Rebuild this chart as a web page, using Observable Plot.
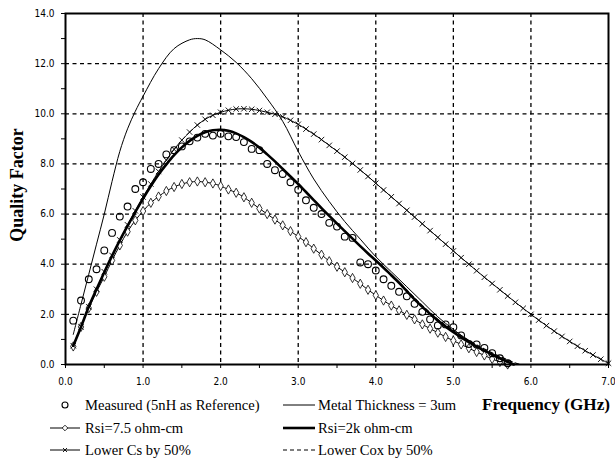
<!DOCTYPE html>
<html>
<head>
<meta charset="utf-8">
<script src="https://cdn.jsdelivr.net/npm/d3@7"></script>
<script src="https://cdn.jsdelivr.net/npm/@observablehq/plot@0.6"></script>
<style>
  html, body { margin: 0; padding: 0; background: white; }
  #wrap { position: relative; width: 615px; height: 459px; background: white; overflow: hidden; }
  #legend { position: absolute; left: 0; top: 390px; width: 615px; height: 69px; font-family: "Liberation Serif", "Times New Roman", serif; font-size: 14.6px; color: black; }
  .item { position: absolute; white-space: nowrap; line-height: 1; transform: translateY(-50%); }
  .sw { position: absolute; transform: translateY(-50%); }
  #xtitle { font-weight: bold; font-size: 17.2px; }
</style>
</head>
<body>
<div id="wrap">
  <div id="chart"></div>
  <div id="legend"></div>
</div>
<script>
// ---------- data ----------
const measuredF = [0.1,0.2,0.3,0.4,0.5,0.6,0.7,0.8,0.9,1.0,1.1,1.2,1.3,1.4,1.5,1.6,1.7,1.8,1.9,2.0,2.1,2.2,2.3,2.4,2.5,2.6,2.7,2.8,2.9,3.0,3.1,3.2,3.3,3.4,3.5,3.6,3.7,3.8,3.9,4.0,4.1,4.2,4.3,4.4,4.5,4.6,4.7,4.8,4.9,5.0,5.1,5.2,5.3,5.4,5.5,5.6,5.7];
const measuredQ = [1.75,2.55,3.4,3.8,4.55,5.25,5.9,6.3,7.0,7.27,7.8,8.0,8.38,8.55,8.7,8.9,9.05,9.2,9.13,9.2,9.1,9.07,8.87,8.6,8.55,8.0,7.75,7.6,7.27,6.97,6.55,6.25,6.0,5.65,5.5,5.1,5.05,4.07,4.0,3.75,3.4,3.14,2.9,2.72,2.42,2.1,1.8,1.56,1.6,1.49,1.16,0.82,0.8,0.66,0.45,0.25,0.05];

const metalF = [0.1,0.2,0.3,0.4,0.5,0.6,0.7,0.8,0.9,1.0,1.2,1.4,1.6,1.7,1.8,2.0,2.2,2.4,2.6,2.8,3.0,3.2,3.4,3.6,3.8,4.0,4.2,4.4,4.6,4.8,5.0,5.2,5.4,5.6,5.8];
const metalQ = [1.2,2.4,3.6,4.8,6.0,7.3,8.5,9.4,10.1,10.7,11.8,12.6,12.95,13.0,12.95,12.55,12.05,11.4,10.6,9.7,8.5,7.4,6.5,5.7,5.0,4.3,3.7,3.1,2.5,1.9,1.4,0.95,0.55,0.22,0.0];

const rsi75F = [0.1,0.2,0.3,0.4,0.5,0.6,0.7,0.8,0.9,1.0,1.1,1.2,1.3,1.4,1.5,1.6,1.7,1.8,1.9,2.0,2.1,2.2,2.3,2.4,2.5,2.6,2.7,2.8,2.9,3.0,3.1,3.2,3.3,3.4,3.5,3.6,3.7,3.8,3.9,4.0,4.1,4.2,4.3,4.4,4.5,4.6,4.7,4.8,4.9,5.0,5.1,5.2,5.3,5.4,5.5,5.6,5.7];
const rsi75Q = [0.72,1.5,2.25,2.9,3.5,4.15,4.75,5.3,5.75,6.12,6.45,6.7,6.92,7.08,7.2,7.27,7.3,7.27,7.22,7.12,6.98,6.85,6.67,6.45,6.22,6.0,5.78,5.55,5.32,5.1,4.88,4.62,4.38,4.12,3.9,3.68,3.45,3.22,2.98,2.76,2.55,2.35,2.16,1.98,1.8,1.6,1.43,1.27,1.1,0.95,0.8,0.65,0.5,0.36,0.22,0.1,0.0];

const rsi2kF = [0.1,0.2,0.3,0.4,0.5,0.6,0.7,0.8,0.9,1.0,1.1,1.2,1.3,1.4,1.5,1.6,1.7,1.8,1.9,2.0,2.1,2.2,2.3,2.4,2.5,2.6,2.7,2.8,2.9,3.0,3.1,3.2,3.3,3.4,3.5,3.6,3.7,3.8,3.9,4.0,4.1,4.2,4.3,4.4,4.5,4.6,4.7,4.8,4.9,5.0,5.1,5.2,5.3,5.4,5.5,5.6,5.7,5.78];
const rsi2kQ = [0.75,1.5,2.3,3.0,3.68,4.33,4.95,5.53,6.08,6.62,7.12,7.58,7.98,8.35,8.66,8.92,9.12,9.26,9.34,9.36,9.32,9.22,9.07,8.88,8.65,8.38,8.1,7.8,7.5,7.2,6.88,6.56,6.24,5.93,5.62,5.32,5.02,4.72,4.43,4.15,3.86,3.56,3.26,2.93,2.6,2.3,2.02,1.75,1.51,1.29,1.08,0.89,0.71,0.55,0.4,0.25,0.11,0.0];

const lowerCsF = [0.1,0.2,0.3,0.4,0.5,0.6,0.7,0.8,0.9,1.0,1.1,1.2,1.3,1.4,1.5,1.6,1.7,1.8,1.9,2.0,2.1,2.2,2.3,2.4,2.5,2.6,2.7,2.8,2.9,3.0,3.1,3.2,3.3,3.4,3.5,3.6,3.7,3.8,3.9,4.0,4.1,4.2,4.3,4.4,4.5,4.6,4.7,4.8,4.9,5.0,5.1,5.2,5.3,5.4,5.5,5.6,5.7,5.8,5.9,6.0,6.1,6.2,6.3,6.4,6.5,6.6,6.7,6.8,6.9,7.0];
const lowerCsQ = [0.75,1.5,2.3,3.0,3.7,4.35,4.97,5.57,6.13,6.68,7.2,7.7,8.15,8.58,8.95,9.27,9.55,9.78,9.94,10.06,10.14,10.19,10.2,10.18,10.13,10.06,9.98,9.88,9.74,9.58,9.39,9.19,8.97,8.74,8.51,8.27,8.02,7.76,7.5,7.23,6.96,6.69,6.42,6.15,5.88,5.61,5.34,5.07,4.8,4.53,4.26,4.0,3.74,3.48,3.23,2.98,2.73,2.48,2.24,2.0,1.77,1.55,1.33,1.12,0.92,0.73,0.55,0.38,0.21,0.05];

const lowerCoxF = [0.1,0.2,0.3,0.4,0.5,0.6,0.7,0.8,0.9,1.0,1.2,1.4,1.6,1.8,2.0,2.2,2.4,2.6,2.8,3.0,3.2,3.4,3.6,3.8,4.0,4.2,4.4,4.6,4.8,5.0,5.2,5.4,5.6,5.8,5.86];
const lowerCoxQ = [0.75,1.5,2.3,3.0,3.68,4.33,4.95,5.53,6.08,6.62,7.58,8.35,8.92,9.26,9.36,9.22,8.88,8.38,7.8,7.2,6.56,5.93,5.32,4.72,4.15,3.58,2.96,2.35,1.8,1.35,0.96,0.62,0.32,0.06,0.0];

const xMajorTicks = [0,1,2,3,4,5,6,7];
const xMinorTicks = [0.5,1.5,2.5,3.5,4.5,5.5,6.5];
const yMajorTicks = [0,2,4,6,8,10,12,14];
const yMinorTicks = [1,3,5,7,9,11,13];
const xGrid = [1,2,3,4,5,6];
const yGrid = [2,4,6,8,10,12];

const seriesNames = ["Measured (5nH as Reference)","Metal Thickness = 3um","Rsi=7.5 ohm-cm","Rsi=2k ohm-cm","Lower Cs by 50%","Lower Cox by 50%"];
const xTitle = "Frequency (GHz)";
const yTitle = "Quality Factor";

// ---------- build tables ----------
const toRows = (fs, qs) => fs.map((f, i) => ({f, q: qs[i]}));
const measured = toRows(measuredF, measuredQ);
const metal = toRows(metalF, metalQ);
const rsi75 = toRows(rsi75F, rsi75Q);
const rsi2k = toRows(rsi2kF, rsi2kQ);
const lowerCs = toRows(lowerCsF, lowerCsQ);
const lowerCox = toRows(lowerCoxF, lowerCoxQ);

const fmt = d => d.toFixed(1);
const curve = "catmull-rom";

const chart = Plot.plot({
  width: 615,
  height: 390,
  marginLeft: 65,
  marginRight: 7,
  marginTop: 13,
  marginBottom: 26,
  x: {domain: [0, 7]},
  y: {domain: [0, 14]},
  style: {fontFamily: "'DejaVu Sans Condensed', 'Liberation Sans', sans-serif", fontSize: "10px", color: "black", background: "white"},
  marks: [
    Plot.ruleX(xGrid, {stroke: "black", strokeWidth: 1.3, strokeDasharray: "4,3.5"}),
    Plot.ruleY(yGrid, {stroke: "black", strokeWidth: 1.3, strokeDasharray: "4,3.5"}),
    Plot.axisX(xMajorTicks, {tickSize: 4, tickPadding: 9, tickFormat: fmt, label: null}),
    Plot.axisX(xMinorTicks, {tickSize: 4, tickFormat: () => "", label: null}),
    Plot.axisY(yMajorTicks, {tickSize: 4, tickPadding: 7, tickFormat: fmt, label: null}),
    Plot.axisY(yMinorTicks, {tickSize: 4, tickFormat: () => "", label: null}),
    Plot.text([yTitle], {frameAnchor: "left", textAnchor: "middle", rotate: -90, dx: -48, dy: -4, fontFamily: "'Liberation Serif', serif", fontWeight: "bold", fontSize: 18, fill: "black"}),
    // lines
    Plot.line(metal, {x: "f", y: "q", stroke: "black", strokeWidth: 1, curve}),
    Plot.line(lowerCox, {x: "f", y: "q", stroke: "black", strokeWidth: 1.2, strokeDasharray: "4,3", curve}),
    Plot.line(rsi75, {x: "f", y: "q", stroke: "black", strokeWidth: 1, curve}),
    Plot.dot(rsi75, {x: "f", y: "q", symbol: "diamond", r: 2.8, stroke: "black", fill: "white", strokeWidth: 0.8}),
    Plot.line(lowerCs, {x: "f", y: "q", stroke: "black", strokeWidth: 1, curve}),
    Plot.dot(lowerCs, {x: "f", y: "q", symbol: "times", r: 2.6, stroke: "black", strokeWidth: 0.9}),
    Plot.line(rsi2k, {x: "f", y: "q", stroke: "black", strokeWidth: 2.6, curve}),
    Plot.dot(measured, {x: "f", y: "q", r: 3.4, stroke: "black", fill: "none", strokeWidth: 1.1}),
    Plot.frame({stroke: "black", strokeWidth: 2})
  ]
});
document.getElementById("chart").appendChild(chart);

// ---------- legend ----------
const legend = document.getElementById("legend");
const rowsY = [15, 38, 60];
function swatch(x, y, w, kind) {
  const s = document.createElementNS("http://www.w3.org/2000/svg", "svg");
  s.setAttribute("width", w); s.setAttribute("height", 12);
  s.setAttribute("class", "sw");
  s.style.left = x + "px"; s.style.top = y + "px";
  const mid = w / 2;
  let html = "";
  if (kind === "circle") {
    html = `<circle cx="${mid}" cy="6" r="3" fill="none" stroke="black" stroke-width="1.1"/>`;
  } else if (kind === "thin") {
    html = `<line x1="0" x2="${w}" y1="6" y2="6" stroke="black" stroke-width="1"/>`;
  } else if (kind === "thick") {
    html = `<line x1="0" x2="${w}" y1="6" y2="6" stroke="black" stroke-width="2.6"/>`;
  } else if (kind === "dashed") {
    html = `<line x1="0" x2="${w}" y1="6" y2="6" stroke="black" stroke-width="1.2" stroke-dasharray="4,3"/>`;
  } else if (kind === "diamond") {
    html = `<line x1="0" x2="${w}" y1="6" y2="6" stroke="black" stroke-width="1"/><path d="M${mid},3.2L${mid+2.8},6L${mid},8.8L${mid-2.8},6Z" fill="white" stroke="black" stroke-width="0.8"/>`;
  } else if (kind === "times") {
    html = `<line x1="0" x2="${w}" y1="6" y2="6" stroke="black" stroke-width="1"/><path d="M${mid-2},4L${mid+2},8M${mid+2},4L${mid-2},8" stroke="black" stroke-width="0.9"/>`;
  }
  s.innerHTML = html;
  legend.appendChild(s);
}
function label(x, y, text, id) {
  const d = document.createElement("div");
  d.className = "item"; d.style.left = x + "px"; d.style.top = y + "px";
  d.textContent = text; if (id) d.id = id;
  legend.appendChild(d);
}
const kinds = ["circle", "thin", "diamond", "thick", "times", "dashed"];
seriesNames.forEach((name, i) => {
  const row = Math.floor(i / 2), col = i % 2;
  const sx = col === 0 ? 50 : 283;
  const tx = col === 0 ? 85 : 318;
  swatch(sx, rowsY[row], col === 0 ? 30 : 32, kinds[i]);
  label(tx, rowsY[row], name);
});
label(482, rowsY[0], xTitle, "xtitle");
</script>
</body>
</html>
